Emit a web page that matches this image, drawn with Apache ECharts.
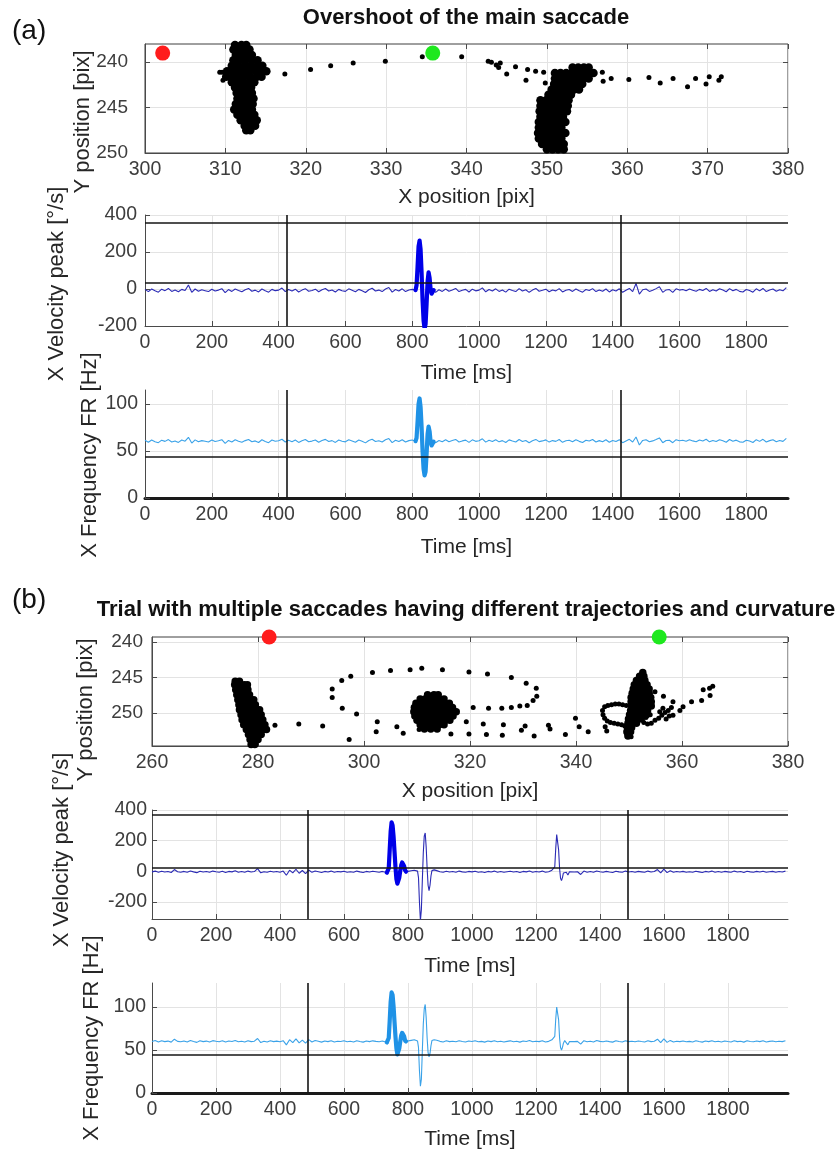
<!DOCTYPE html>
<html><head><meta charset="utf-8">
<script src="https://cdn.jsdelivr.net/npm/echarts@6/dist/echarts.min.js"></script>
<style>html,body{margin:0;padding:0;background:#fff}#c{width:840px;height:1153px}</style>
</head><body><div id="c"></div>
<script>
// ---------------- DATA ----------------
// Panel (a) scatter: X/Y gaze position
const startA = [302.2, 239.0];
const endA = [335.8, 239.0];
const trajA = [[309.3,241.1],[309.6,241.1],[309.7,242.0],[317.4,241.3],[320.6,240.8],[323.1,240.4],[325.9,240.1],[329.9,239.9],[334.5,239.4],[339.4,239.4],[342.7,239.9],[343.1,240.0],[343.7,240.3],[344.2,240.1],[344.0,240.6],[345.0,241.3],[346.1,240.5],[347.6,240.8],[347.4,242.0],[348.6,241.0],[349.6,241.1],[349.8,242.3],[356.9,241.1],[357.0,242.1],[358.0,241.8],[360.2,241.9],[362.7,241.7],[364.1,242.3],[365.7,241.8],[367.5,242.7],[368.5,241.8],[369.8,242.4],[370.2,241.6],[371.4,242.0],[371.7,241.6]];
// dense fixation clusters: [y, [x values]]
const clusterA1 = [
[238.1,[311.2,312.0,312.6]],[238.6,[311.0,311.7,312.4,313.0]],[239.2,[311.3,312.0,312.7,313.3]],
[239.8,[311.0,311.7,312.5,313.3,314.0]],[240.4,[310.8,311.6,312.4,313.2,314.0,314.6]],
[241.0,[310.2,310.9,311.6,312.3,313.0,313.8,314.6,315.1]],[241.6,[310.1,310.9,311.6,312.3,313.1,313.9,314.5]],
[242.2,[310.8,311.5,312.2,313.0,313.6]],[242.8,[311.2,311.9,312.6,313.2]],[243.4,[311.4,312.1,312.8,313.3]],
[244.0,[311.5,312.2,312.9,313.5]],[244.6,[311.3,312.0,312.7,313.4]],[245.2,[311.1,311.8,312.5,313.3]],
[245.8,[311.5,312.2,312.9,313.6]],[246.4,[311.9,312.6,313.3,313.9]],[247.0,[312.4,313.1,313.7]],[247.5,[312.6,313.1]]];
const clusterA2 = [
[240.6,[353.2,353.9,354.6,355.2]],[241.2,[351.0,351.7,352.4,353.1,353.8,354.5,355.2,355.8]],
[241.8,[351.0,351.7,352.4,353.1,353.8,354.5,355.2]],[242.4,[350.9,351.6,352.3,353.0,353.7,354.4]],
[243.0,[350.6,351.3,352.0,352.7,353.4,354.0]],[243.6,[350.2,350.9,351.6,352.3,353.0]],
[244.2,[349.2,349.9,350.6,351.3,352.0,352.7]],[244.8,[349.2,349.9,350.6,351.3,352.0,352.6]],
[245.4,[349.1,349.8,350.5,351.2,351.9,352.5]],[246.0,[349.2,349.9,350.6,351.3,352.0]],
[246.6,[349.0,349.7,350.4,351.1,351.8,352.3]],[247.2,[349.0,349.7,350.4,351.1,351.8]],
[247.8,[348.9,349.6,350.3,351.0,351.7,352.3]],[248.4,[349.0,349.7,350.4,351.1,351.8]],
[249.0,[349.4,350.1,350.8,351.5,352.1]],[249.6,[350.0,350.7,351.4,352.1]]];

// Panel (b) scatter
const startB = [282.1, 239.3];
const endB = [355.7, 239.3];
const trajB = [[283.2,251.7],[287.7,251.5],[292.2,251.8],[297.2,253.7],[298.6,250.1],[295.9,249.3],[294.0,247.8],[294.0,246.6],[295.8,245.4],[297.5,244.8],[301.6,244.3],[305.0,244.0],[308.7,243.9],[302.5,251.2],[302.3,252.6],[306.2,251.9],[307.4,252.8],[310.4,252.3],[310.9,243.7],[314.8,243.9],[319.8,244.2],[323.3,244.5],[327.8,245.0],[330.6,245.8],[332.5,246.5],[332.6,247.6],[331.9,248.2],[330.8,248.9],[329.4,249.0],[327.8,249.2],[326.0,249.3],[323.5,249.3],[320.6,249.2],[319.3,251.2],[322.5,251.5],[326.3,251.6],[330.4,251.8],[329.7,252.4],[316.4,252.9],[319.8,252.9],[323.1,253.0],[326.1,253.1],[332.1,253.2],[334.8,251.7],[335.1,252.2],[338.0,253.0],[339.9,250.7],[340.6,251.9],[342.3,252.6],[345.5,251.9],[345.8,252.5],[345.0,249.6],[345.4,249.1],[346.0,248.9],[346.7,248.8],[347.4,248.7],[348.1,248.7],[348.8,248.8],[349.5,248.9],[345.1,250.2],[345.4,250.7],[345.9,251.1],[346.5,251.3],[347.2,251.4],[347.9,251.5],[348.6,251.6],[349.2,251.8],[352.8,251.3],[353.5,251.5],[354.2,251.4],[354.9,251.0],[355.6,250.7],[356.2,250.3],[356.8,249.9],[357.4,249.6],[355.8,249.8],[356.4,249.3],[357.0,250.8],[357.6,250.4],[358.0,249.2],[358.3,250.3],[359.6,249.6],[353.2,250.6],[354.0,250.2],[349.6,253.0],[350.4,253.3],[354.9,247.0],[356.5,247.6],[358.3,248.4],[360.2,249.1],[361.8,248.4],[363.7,248.2],[364.0,246.7],[365.3,247.5],[365.8,246.2],[365.2,246.5]];
const clusterB1 = [
[245.5,[275.7,276.5]],[246.0,[275.6,276.4,277.4,278.0]],[246.7,[275.8,276.6,277.4,278.1]],
[247.4,[276.0,276.8,277.6,278.4]],[248.1,[276.2,277.0,277.8,278.6,279.2]],[248.8,[276.4,277.2,278.0,278.8,279.5]],
[249.5,[276.5,277.3,278.1,278.9,279.7,280.3]],[250.2,[276.8,277.6,278.4,279.2,280.0,280.6]],
[250.9,[277.0,277.8,278.6,279.4,280.2,280.9]],[251.6,[277.3,278.1,278.9,279.7,280.5,281.3]],
[252.3,[277.8,278.6,279.4,280.2,281.0,281.6]],[253.0,[278.2,279.0,279.8,280.6]],[253.7,[278.5,279.3,280.0]],[254.4,[278.7,279.4]]];
const clusterB2 = [
[247.4,[312.0,313.2,314.0]],[248.0,[310.6,311.5,312.4,313.3,314.2,315.1]],
[248.6,[309.8,310.7,311.6,312.5,313.4,314.3,315.2,316.1]],[249.2,[309.5,310.4,311.3,312.2,313.1,314.0,314.9,315.8,316.7]],
[249.8,[309.4,310.3,311.2,312.1,313.0,313.9,314.8,315.7,316.6,317.4]],[250.4,[309.6,310.5,311.4,312.3,313.2,314.1,315.0,315.9,316.8]],
[251.0,[310.0,310.9,311.8,312.7,313.6,314.5,315.4,316.2]],[251.6,[310.6,311.5,312.4,313.3,314.2,315.1]],[252.2,[311.4,312.6,313.8]]];
const clusterB3 = [
[244.3,[352.6]],[244.8,[352.0,352.8]],[245.4,[351.4,352.2,353.0]],[246.0,[351.0,351.8,352.6,353.4]],
[246.6,[350.8,351.6,352.4,353.2,353.8]],[247.2,[350.6,351.4,352.2,353.0,353.8]],
[247.8,[350.4,351.2,352.0,352.8,353.6,354.1]],[248.4,[350.4,351.2,352.0,352.8,353.6,354.2]],
[249.0,[350.5,351.3,352.1,352.9,353.7,354.2]],[249.6,[350.3,351.1,351.9,352.7,353.5]],
[250.2,[350.1,350.9,351.7,352.5,353.3]],[250.8,[349.9,350.7,351.5,352.3]],[251.4,[349.8,350.6,351.4]],
[252.0,[349.7,350.5]],[252.6,[349.6,350.3]],[253.2,[349.8]]];

// Time traces: baseline samples every 10 ms from 0 ms
const STEP = 10;
const velA = [
-2,-14,0,-10,-17,-1,-9,3,-13,-6, -15,-2,-8,22,-18,0,-12,-4,-9,-14,
-1,-11,-6,2,-20,-3,-13,0,-8,-15, -4,3,-12,-6,-16,0,-10,-17,-2,-9,
-6,5,-14,-3,-11,-1,-16,-6,2,-12, -8,-1,-15,-4,3,-11,-5,-16,-2,-9,
-13,1,-7,-15,-2,-9,-19,-4,4,-11, -6,-14,0,8,-17,-3,-11,1,-14,-5,
-2,-10,-6,-4,-6,-4,-6,-18,-4,-13, 0,-12,-5,3,-14,-7,-2,-16,-1,-10,
-6,6,-15,-3,-11,1,-13,-5,-17,-1, -8,-14,2,-11,-4,-18,-6,3,-12,-7,
-1,-15,-5,-10,2,-16,-7,-3,-13,0, -10,-17,-3,-8,2,-14,-5,-12,0,-16,
-4,-11,1,-18,-7,3,-14,30,-28,-4, 0,-13,-7,2,12,-18,-5,-3,-18,1,
-6,-3,-9,0,-7,-12,-2,-8,3,-13, -4,-11,1,-6,-15,2,-9,-2,-13,-16,
-3,-8,-17,1,-10,3,-14,-5,0,-12, -4,-10,8];
const freqA = [
61.5,59.4,61.8,60.0,58.9,61.6,60.3,62.2,59.6,60.8, 59.2,61.7,60.5,64.6,58.5,61.9,59.8,61.1,60.4,59.6,
61.8,60.1,60.9,62.1,58.2,61.3,59.7,62.0,60.5,59.4, 61.1,62.3,59.9,60.8,59.1,62.0,60.2,58.9,61.7,60.4,
61.0,62.6,59.6,61.4,60.0,61.8,59.2,61.0,62.2,59.9, 60.6,61.8,59.4,61.3,62.4,60.1,61.1,59.2,61.7,60.5,
59.8,62.0,60.8,59.4,61.7,60.4,58.7,61.3,62.5,60.1, 61.0,59.6,62.0,63.3,59.0,61.5,60.1,62.1,59.6,61.1,
61.7,60.3,61,61,61,61,61,58.9,61.3,59.8, 62.0,59.9,61.2,62.4,59.6,60.8,61.6,59.2,61.9,60.3,
61.0,63.0,59.5,61.5,60.1,62.1,59.8,61.1,59.1,61.9, 60.6,59.6,62.3,60.2,61.3,58.9,61.0,62.4,60.0,60.8,
61.9,59.5,61.1,60.3,62.3,59.3,60.9,61.5,59.8,62.0, 60.3,59.1,61.5,60.6,62.3,59.6,61.1,59.9,62.0,59.3,
61.3,60.1,62.1,58.9,60.8,62.5,59.6,65.0,56.4,61.3, 62.0,59.8,60.8,62.3,64.0,58.9,61.2,61.5,58.9,62.1,
61.0,61.5,60.4,62.0,60.8,59.9,61.7,60.6,62.5,59.8, 61.3,60.1,62.1,61.0,59.4,62.3,60.5,61.6,59.8,59.3,
61.5,60.6,59.1,62.1,60.3,62.5,59.6,61.1,62.0,60.0, 61.3,60.3,63.4];
// saccade samples [ms, value]
const sacVelA = [[810,-6],[813,20],[816,120],[819,230],[822,262],[825,215],[828,90],[831,-60],[834,-170],[837,-215],[840,-190],[843,-80],[846,40],[849,90],[852,60],[855,0],[858,-25],[861,-15],[864,-6]];
const sacFreqA = [[810,60.5],[813,64],[816,81],[819,100],[822,106],[825,97],[828,76],[831,50],[834,31],[837,24],[840,28],[843,47],[846,68],[849,76],[852,71],[855,60],[858,56],[861,58],[864,60]];

const velB = [
-3,2,-6,1,-4,-1,-7,12,-2,-5, 0,-6,3,-3,-8,1,-4,-1,-6,2,
-2,-5,1,-7,0,-3,4,-5,-1,-6, 2,-4,-1,18,-9,-2,-6,1,-4,-1,
-5,2,-25,8,-10,14,-12,6,-14,9, -6,3,-2,-7,0,-4,2,-6,-1,-3,
1,-5,-2,-6,2,-3,-7,0,-4,1, -2,-5,0,-6,-3,-7,-2,-4,-1,-5,
0,4,8,9,6,3,2,-3,0,5, -2,-6,1,-4,-1,-5,2,-3,-6,0,
-3,1,-5,-2,-7,0,-4,2,-5,-1, -6,-2,1,-4,-1,-7,0,-3,3,-5,
-1,-4,2,-6,-2,8,-3,-5,-1,-3, -25,0,-4,-2,-20,2,-5,-1,-6,3,
-2,-5,0,-4,-7,1,-3,-6,2,-4, -1,-5,0,-3,-6,2,-4,-1,12,-10,
15,-8,4,-6,-1,-4,0,-5,-2,-6, 1,-3,-7,0,-4,2,-5,-1,-6,0,
-3,-6,2,-4,-1,-7,1,-3,-5,0, -4,1,-6,-2,0,-5,-1,-4,2];
const freqB = [
60.0,61.0,59.4,60.8,59.8,60.4,59.2,62.6,60.1,59.6, 60.5,59.4,61.1,59.9,58.9,60.8,59.8,60.4,59.4,60.9,
60.2,59.6,60.7,59.3,60.5,59.9,61.2,59.6,60.3,59.4, 60.9,59.8,60.3,63.4,58.7,60.2,59.4,60.8,59.8,60.4,
59.6,60.9,56.0,62.0,58.6,63.0,58.4,61.6,58.0,62.1, 59.4,61.1,60.2,59.2,60.5,59.8,60.9,59.4,60.3,59.9,
60.7,59.6,60.2,59.4,60.9,59.9,59.2,60.5,59.8,60.7, 60.1,59.6,60.5,59.4,60.0,59.3,60.2,59.8,60.4,59.6,
60.5,61.2,61.9,62.1,61.6,61.0,60.8,59.9,60.5,61.4, 60.1,59.4,60.7,59.8,60.3,59.6,60.9,59.9,59.4,60.5,
59.9,60.7,59.6,60.1,59.2,60.5,59.8,60.9,59.6,60.3, 59.4,60.1,60.7,59.7,60.3,59.2,60.5,59.9,61.0,59.6,
60.3,59.8,60.9,59.4,60.1,61.9,60.0,59.6,60.3,59.9, 56.0,60.5,59.8,60.1,56.9,60.9,59.6,60.3,59.4,61.0,
60.1,59.6,60.5,59.8,59.2,60.7,59.9,59.4,60.9,59.8, 60.3,59.6,60.5,59.9,59.4,60.9,59.8,60.3,62.6,58.7,
63.0,58.9,61.2,59.4,60.3,59.8,60.5,59.6,60.1,59.4, 60.7,59.9,59.2,60.5,59.8,60.9,59.6,60.3,59.4,60.5,
59.9,59.4,60.9,59.8,60.3,59.2,60.7,59.9,59.6,60.5, 59.8,60.7,59.4,60.1,60.5,59.6,60.3,59.8,60.9];
const sacVelB = [[734,-8],[737,-18],[740,20],[743,140],[746,260],[749,320],[752,300],[755,230],[758,130],[761,30],[764,-50],[767,-80],[770,-75],[773,-40],[776,5],[779,40],[782,58],[785,60],[788,35],[791,8],[794,-2]];
const evVelB1 = [[826,6],[830,2],[833,-40],[836,-200],[839,-320],[842,-250],[845,-60],[848,120],[851,230],[854,250],[857,160],[860,20],[863,-90],[866,-125],[869,-90],[872,-30],[875,5],[878,18],[882,10],[886,0]];
const evVelB2 = [[1256,0],[1259,30],[1262,150],[1265,240],[1268,245],[1271,140],[1274,20],[1277,-45],[1280,-60],[1283,-40],[1286,-10],[1290,3],[1295,-6],[1300,-24],[1305,-2]];
const sacFreqB = [[734,59],[737,57],[740,64],[743,84],[746,106],[749,117],[752,114],[755,101],[758,83],[761,66],[764,52],[767,45],[770,46],[773,52],[776,60],[779,67],[782,70],[785,71],[788,66],[791,61],[794,60]];
const evFreqB1 = [[826,61],[830,60.5],[833,53],[836,26],[839,8],[842,16],[845,49],[848,80],[851,98],[854,103],[857,88],[860,64],[863,47],[866,42],[869,46],[872,55],[875,61],[878,63],[882,62],[886,60]];
const evFreqB2 = [[1256,60],[1259,66],[1262,86],[1265,100],[1268,102],[1271,85],[1274,64],[1277,53],[1280,50],[1283,53],[1286,58],[1290,61],[1295,59],[1300,56],[1305,60]];

// thresholds and time markers
const velThrA = [32, 357];
const freqThrA = [44];
const timeMarksA = [425, 1425];
const velThrB = [26, 367];
const freqThrB = [44];
const timeMarksB = [486, 1486];

// tick values
const xTicksScatA = [300,310,320,330,340,350,360,370,380];
const xTicksScatB = [260,280,300,320,340,360,380];
const yTicksScat = [240,245,250];
const timeTicks = [0,200,400,600,800,1000,1200,1400,1600,1800];
const velTicksA = [-200,0,200,400];
const velTicksB = [-200,0,200,400];
const freqTicks = [0,50,100];

// ---------------- BUILD ----------------
function rowsToPts(rows){ const out=[]; rows.forEach(r=>r[1].forEach(x=>out.push([x,r[0]]))); return out; }
function mergeTrace(base, events){
  const pts=[];
  base.forEach((v,i)=>{ const t=i*STEP;
    if(!events.some(ev=>t>=ev[0][0] && t<=ev[ev.length-1][0])) pts.push([t,v]); });
  events.forEach(ev=>ev.forEach(p=>pts.push(p)));
  pts.sort((a,b)=>a[0]-b[0]);
  return pts;
}
const FONT = '"Liberation Sans", Arial, Helvetica, sans-serif';
const LBL = '#3d3d3d', AXC = '#4a4a4a', GRID = '#e3e3e3';
const plain = v => String(v);

const grids = [
 {left:145, top:44, width:643, height:109, show:true, borderColor:'#3f3f3f', borderWidth:1},
 {left:145, top:215, width:643, height:111},
 {left:145, top:390, width:643, height:108},
 {left:152, top:637, width:636, height:109, show:true, borderColor:'#3f3f3f', borderWidth:1},
 {left:152, top:810, width:636, height:109},
 {left:152, top:983, width:636, height:110}
].map(g=>Object.assign({containLabel:false, outerBoundsMode:'none'}, g));

function xAx(gi,min,max,ticks,name,gap,lw,lc){
  return {type:'value', gridIndex:gi, min, max, name, nameLocation:'middle', nameGap:gap,
    nameTextStyle:{fontSize:21, color:'#262626', fontFamily:FONT},
    axisLine:{show:true, onZero:false, lineStyle:{color:lc||AXC, width:lw||1}},
    axisTick:{show:true, inside:true, length:5, customValues:ticks, lineStyle:{color:AXC}},
    axisLabel:{customValues:ticks, formatter:plain, fontSize:19.5, color:LBL, fontFamily:FONT, margin:7},
    splitLine:{show:true, lineStyle:{color:GRID, width:1}}};
}
function yAx(gi,min,max,ticks,inv,margin,fs){
  return {type:'value', gridIndex:gi, min, max, inverse:!!inv,
    axisLine:{show:true, onZero:false, lineStyle:{color:AXC, width:1}},
    axisTick:{show:true, inside:true, length:5, customValues:ticks, lineStyle:{color:AXC}},
    axisLabel:{customValues:ticks, formatter:plain, fontSize:fs||19.5, color:LBL, fontFamily:FONT, margin:margin},
    splitLine:{show:true, lineStyle:{color:GRID, width:1}}};
}
function mirrorX(gi,min,max,ticks){
  return {type:'value', gridIndex:gi, min, max, position:'top', axisLine:{show:false},
    axisTick:{show:true, inside:true, length:5, customValues:ticks, lineStyle:{color:AXC}},
    axisLabel:{show:false, customValues:ticks}, splitLine:{show:false}};
}
function mirrorY(gi,min,max,ticks){
  return {type:'value', gridIndex:gi, min, max, inverse:true, position:'right', axisLine:{show:false},
    axisTick:{show:true, inside:true, length:5, customValues:ticks, lineStyle:{color:AXC}},
    axisLabel:{show:false, customValues:ticks}, splitLine:{show:false}};
}

const xAxes = [
  xAx(0,300,380,xTicksScatA,'X position [pix]',34),
  xAx(1,0,1925,timeTicks,'Time [ms]',37),
  xAx(2,0,1925,timeTicks,'Time [ms]',39,3,'#1a1a1a'),
  xAx(3,260,380,xTicksScatB,'X position [pix]',35),
  xAx(4,0,1988,timeTicks,'Time [ms]',37),
  xAx(5,0,1988,timeTicks,'Time [ms]',36,3,'#1a1a1a'),
  mirrorX(0,300,380,xTicksScatA),
  mirrorX(3,260,380,xTicksScatB)
];
const yAxes = [
  yAx(0,238,250,yTicksScat,true,17,19),
  yAx(1,-200,400,velTicksA,false,8),
  yAx(2,0,115,freqTicks,false,7),
  yAx(3,239.3,254.6,yTicksScat,true,9,19),
  yAx(4,-310,400,velTicksB,false,5),
  yAx(5,0,128,freqTicks,false,6),
  mirrorY(0,238,250,yTicksScat),
  mirrorY(3,239.3,254.6,yTicksScat)
];

function marks(thr, tm){
  return {silent:true, symbol:['none','none'], label:{show:false}, animation:false,
    lineStyle:{color:'#151515', width:1.6, type:'solid'},
    data: thr.map(v=>({yAxis:v})).concat(tm.map(t=>({xAxis:t})))};
}
function thin(ai, data, color, mk){
  return {type:'line', xAxisIndex:ai, yAxisIndex:ai, data, showSymbol:false, symbol:'none',
    lineStyle:{color, width:1.1}, itemStyle:{color}, z:2, markLine:mk};
}
function bold(ai, data, color){
  return {type:'line', xAxisIndex:ai, yAxisIndex:ai, data, showSymbol:false, symbol:'none',
    lineStyle:{color, width:4.2, join:'round', cap:'round'}, itemStyle:{color}, z:3};
}
function dots(ai, data, size, color){
  return {type:'scatter', xAxisIndex:ai, yAxisIndex:ai, data, symbolSize:size,
    itemStyle:{color, opacity:1}, clip:false, z:4};
}

const VC='#2b2bb5', VB='#0000e8', FC='#3aa2e8', FB='#1f92e6';
const series = [
  dots(0, rowsToPts(clusterA1).concat(rowsToPts(clusterA2)), 8.5, '#000'),
  dots(0, trajA, 5, '#000'),
  dots(0, [startA], 15, '#ff1c1c'),
  dots(0, [endA], 15, '#1ee81e'),
  thin(1, mergeTrace(velA,[sacVelA]), VC, marks(velThrA,timeMarksA)),
  bold(1, sacVelA, VB),
  thin(2, mergeTrace(freqA,[sacFreqA]), FC, marks(freqThrA,timeMarksA)),
  bold(2, sacFreqA, FB),
  dots(3, rowsToPts(clusterB1).concat(rowsToPts(clusterB2)).concat(rowsToPts(clusterB3)), 7.5, '#000'),
  dots(3, trajB, 5, '#000'),
  dots(3, [startB], 15, '#ff1c1c'),
  dots(3, [endB], 15, '#1ee81e'),
  thin(4, mergeTrace(velB,[sacVelB,evVelB1,evVelB2]), VC, marks(velThrB,timeMarksB)),
  bold(4, sacVelB, VB),
  thin(5, mergeTrace(freqB,[sacFreqB,evFreqB1,evFreqB2]), FC, marks(freqThrB,timeMarksB)),
  bold(5, sacFreqB, FB)
];

function txt(t,x,y,size,opts){
  opts=opts||{};
  return {type:'text', x, y, rotation: opts.rot? Math.PI/2 : 0, silent:true, z:10,
    style:{text:t, fontSize:size, fontFamily:FONT, fontWeight:opts.bold?'bold':'normal',
      fill:opts.fill||'#262626', align:opts.align||'center', verticalAlign:'middle',
      textAlign:opts.align||'center', textVerticalAlign:'middle'}};
}
const graphics = [
  txt('(a)',12,31,28,{align:'left', fill:'#111'}),
  txt('Overshoot of the main saccade',466,18,22,{bold:true, fill:'#111'}),
  txt('Y position [pix]',83,122,22,{rot:true}),
  txt('X Velocity peak [°/s]',57,284,22,{rot:true}),
  txt('X Frequency FR [Hz]',90,455,22,{rot:true}),
  txt('(b)',12,600,28,{align:'left', fill:'#111'}),
  txt('Trial with multiple saccades having different trajectories and curvature',466,610,22,{bold:true, fill:'#111'}),
  txt('Y position [pix]',86,710,22,{rot:true}),
  txt('X Velocity peak [°/s]',62,850,22,{rot:true}),
  txt('X Frequency FR [Hz]',92,1038,22,{rot:true})
];

const chart = echarts.init(document.getElementById('c'), null, {renderer:'canvas', width:840, height:1153});
chart.setOption({
  backgroundColor:'#fff', animation:false,
  grid: grids, xAxis: xAxes, yAxis: yAxes, series, graphic: graphics
});
</script></body></html>
